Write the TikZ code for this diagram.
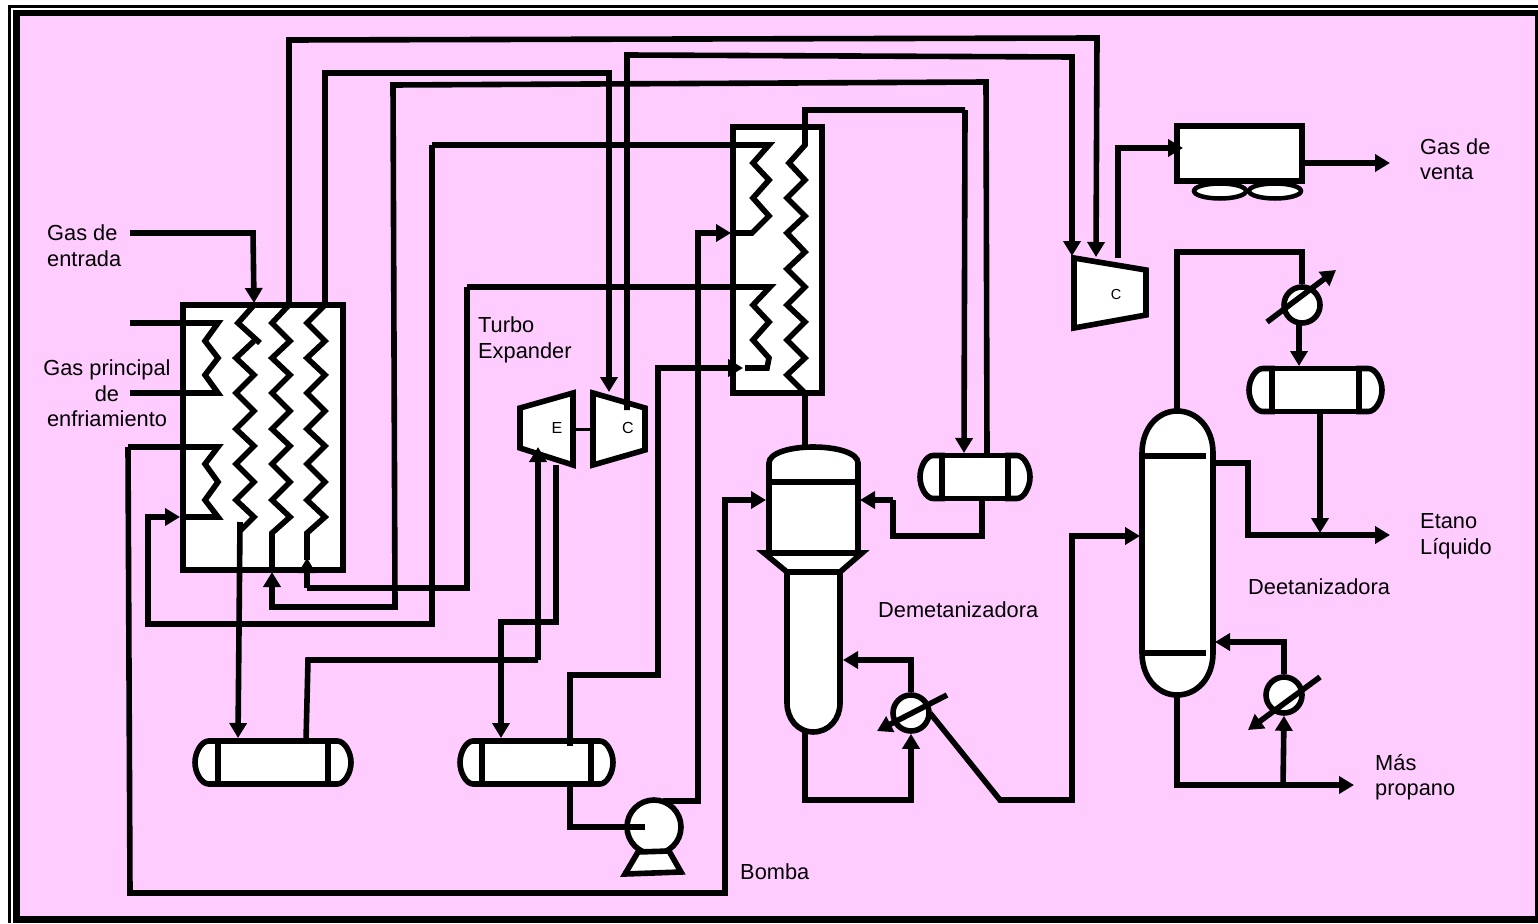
\documentclass[tikz,border=0pt]{standalone}
\usepackage{fontspec}
\setmainfont{Liberation Sans}
\usetikzlibrary{arrows.meta,shapes.geometric}
\definecolor{bgpink}{HTML}{FFCCFF}
\tikzset{
  vessel/.style={draw=black,fill=white,line width=5.6pt,line join=miter},
  vnode/.style={vessel,inner sep=0pt,outer sep=0pt,shape=rectangle},
  pipe/.style={draw=black,line width=5.6pt,line join=miter},
  flow/.style={pipe,-{Triangle[length=15pt,width=17pt]}},
  coil/.style={draw=black,line width=5.6pt,line join=miter,miter limit=4},
  lbl/.style={font=\fontsize{21.8}{25.5}\selectfont,align=left,text=black,inner sep=0pt},
  eqlbl/.style={font=\fontsize{16}{16}\selectfont,text=black,inner sep=0pt},
}
\newcommand{\hdrum}[6]{% name, cx, cy, width of middle, height, cap
  \coordinate (#1-nw) at (#2-#4/2,#3-#5/2);
  \coordinate (#1-ne) at (#2+#4/2,#3-#5/2);
  \draw[vessel] (#1-nw) -- ++(-#6*0.4,0) .. controls +(-#6*0.32,0) and +(0,-#5*0.24) .. ++(-#6*0.6,#5*0.5) .. controls +(0,#5*0.24) and +(-#6*0.32,0) .. ++(#6*0.6,#5*0.5) -- ++(#6*0.4,0) -- cycle;
  \draw[vessel] (#1-ne) -- ++(#6*0.4,0) .. controls +(#6*0.32,0) and +(0,-#5*0.24) .. ++(#6*0.6,#5*0.5) .. controls +(0,#5*0.24) and +(#6*0.32,0) .. ++(-#6*0.6,#5*0.5) -- ++(-#6*0.4,0) -- cycle;
  \node[vnode,minimum width=#4pt,minimum height=#5pt] (#1) at (#2,#3) {};
}
\begin{document}
\begin{tikzpicture}[x=1pt,y=-1pt]
\useasboundingbox (0,0) rectangle (1538,923);
% frame
\fill[white] (0,0) rectangle (1538,923);
\fill[black] (8,5) rectangle (1538,923);
\fill[white] (11,8) rectangle (1538,923);
\fill[black] (13,10) rectangle (1538,923);
\fill[bgpink] (20,16) rectangle (1535,916);

% ---------- equipment ----------
\node[vnode,minimum width=160pt,minimum height=265pt] (hxa) at (263,437.5) {};
\node[vnode,minimum width=89pt,minimum height=266pt] (hxb) at (777.5,260) {};
\node[vessel,line width=4.5pt,ellipse,inner sep=0pt,minimum width=52pt,minimum height=15pt] (fana) at (1220,191) {};
\node[vessel,line width=4.5pt,ellipse,inner sep=0pt,minimum width=52pt,minimum height=15pt] (fanb) at (1275,191) {};
\node[vnode,minimum width=125pt,minimum height=55pt] (cooler) at (1239.5,153.5) {};

\hdrum{draina}{273}{762.5}{110}{43}{23}
\hdrum{drainb}{536.5}{762.5}{109}{43}{22}
\hdrum{drumdem}{975}{477}{66}{43}{22}
\hdrum{drumdee}{1315.5}{390}{87}{43}{23}

% turbo expander
\draw[vessel] (520,408) -- (573,393) -- (573,465) -- (520,448) -- cycle;
\draw[vessel] (593,393) -- (645,408) -- (645,450) -- (593,465) -- cycle;
\coordinate (shafta) at (573,429);
\coordinate (shaftb) at (593,429);
\draw[draw=black,line width=3pt] (shafta) -- (shaftb);
\node[eqlbl] (elbl) at (557,428) {E};
\node[eqlbl] (clbl) at (628,428) {C};

% sales compressor
\draw[vessel] (1074,258) -- (1146,270) -- (1146,315) -- (1074,328) -- cycle;
\node[eqlbl,font=\fontsize{14.5}{15}\selectfont] (clblb) at (1116,295) {C};

% demethanizer
\draw[vessel] (769,553) -- (769,463) .. controls (769,453) and (790,447) .. (813,447) .. controls (837,447) and (858,453) .. (858,463) -- (858,553);
\draw[vessel] (764,553) -- (787,572) -- (787,703) .. controls (787,719) and (798,732) .. (813,732) .. controls (829,732) and (840,719) .. (840,703) -- (840,572) -- (862,553) -- cycle;
\draw[pipe] (769,482) -- (858,482);
\draw[pipe] (787,572) -- (840,572);

% deethanizer
\draw[vessel] (1142,453) .. controls (1142,428) and (1158,411) .. (1177,411) .. controls (1197,411) and (1213,428) .. (1213,453) -- (1213,653) .. controls (1213,678) and (1197,695) .. (1177,695) .. controls (1158,695) and (1142,678) .. (1142,653) -- cycle;
\draw[pipe] (1142,456) -- (1206,456);
\draw[pipe] (1142,653) -- (1206,653);

% exchangers
\node[vessel,circle,inner sep=0pt,minimum size=36pt] (cond) at (1302,305) {};
\node[vessel,circle,inner sep=0pt,minimum size=36pt] (rebdem) at (911,713) {};
\node[vessel,circle,inner sep=0pt,minimum size=36pt] (rebdee) at (1284,695) {};

% pump
\node[vessel,circle,inner sep=0pt,minimum size=54pt] (pump) at (654,827) {};
\draw[vessel] (638,852) -- (625,874) -- (681,872) -- (669,851) -- cycle;

% ---------- named ports ----------
\coordinate (in1) at (130,233);
\coordinate (in2) at (130,323);
\coordinate (in3) at (130,393);
\coordinate (ha1) at (254,303);
\coordinate (ha2) at (289,305);
\coordinate (ha3) at (325,305);
\coordinate (hbL) at (731,233);
\coordinate (hbLo) at (743,368);
\coordinate (compin1) at (1072,256);
\coordinate (compin2) at (1096,257);
\coordinate (compout) at (1118,258);
\coordinate (coolin) at (1183,148);
\coordinate (coolout) at (1303,163);
\coordinate (ctip) at (609,392);
\coordinate (cout) at (627,410);
\coordinate (eIn) at (538,447);
\coordinate (eOut) at (556,465);

% ---------- exchanger A coils ----------
\draw[coil] (in2) -- (218,323) -- (205,341) -- (218,358) -- (205,375) -- (218,393) -- (in3);
\draw[coil] (128,447) -- (218,447) -- (205,464) -- (218,482) -- (205,500) -- (218,517) -- (180,517);
\draw[coil] (254,305) -- (238,323) -- (260,343);
\draw[coil] (254,341) -- (236,358) -- (254,375) -- (236,393) -- (254,411) -- (236,429) -- (254,446) -- (236,464) -- (254,482) -- (236,500) -- (254,517) -- (239,532);
\draw[coil] (ha2) -- (272,323) -- (290,341) -- (272,358) -- (290,375) -- (272,393) -- (290,411) -- (272,429) -- (290,446) -- (272,464) -- (290,482) -- (272,500) -- (290,517) -- (272,533) -- (272,572);
\draw[coil] (ha3) -- (307,323) -- (325,341) -- (307,358) -- (325,375) -- (307,393) -- (325,411) -- (307,429) -- (325,446) -- (307,464) -- (325,482) -- (307,500) -- (325,517) -- (307,533) -- (307,560);

% ---------- exchanger B coils ----------
\draw[coil] (432,145) -- (769,145) -- (753,163) -- (769,180) -- (753,198) -- (769,216) -- (752,233) -- (hbL);
\draw[coil] (467,287) -- (770,287) -- (753,305) -- (769,322) -- (753,340) -- (769,358) -- (767,368) -- (745,368);
\draw[coil] (965,110) -- (805,110) -- (805,145) -- (789,163) -- (805,180) -- (787,198) -- (805,216) -- (787,233) -- (805,252) -- (787,269) -- (805,287) -- (787,305) -- (805,322) -- (787,340) -- (805,358) -- (787,375) -- (805,393) -- (805,447);

% ---------- pipes ----------
\draw[flow] (in1) -- (253,233) -- (ha1);
\draw[flow] (ha2) -- (289,40) -- (1097,38) -- (compin2);
\draw[flow] (ha3) -- (325,73) -- (609,73) -- (ctip);
\draw[flow] (cout) -- (627,55) -- (1072,57) -- (compin1);
\draw[flow] (drumdem.north east) ++(-21,0) -- (986,82) -- (393,85) -- (395,607) -- (272,607) -- (272,572);
\draw[pipe] (467,287) -- (467,588) -- (307,588);
\draw[flow] (307,588) -- (307,558);
\draw[flow] (432,145) -- (432,624) -- (148,624) -- (148,517) -- (180,517);
\draw[flow] (240,522) -- (238,738);
\draw[flow] (compout) -- (1118,148) -- (coolin);
\draw[flow] (coolout) -- (1390,163);
\draw[flow] (965,110) -- (964,453);
% expander connections
\draw[pipe] (draina.north east) ++(-22,0) -- (308,660) -- (538,660);
\draw[flow] (538,660) -- (eIn);
\draw[flow] (eOut) -- (556,622) -- (501,622) -- (501,738);
\draw[flow] (570,746) -- (570,675) -- (658,675) -- (658,368) -- (hbLo);
\draw[pipe] (570,784) -- (570,827) -- (645,827);
\draw[flow] (663,801) -- (698,801) -- (698,233) -- (hbL);
\draw[flow] (128,447) -- (130,893) -- (725,893) -- (725,500) -- (766,500);
% demethanizer connections
\draw[pipe] (982,499) -- (982,536) -- (893,536) -- (893,500);
\draw[flow] (893,500) -- (860,500);
\draw[flow] (805,732) -- (805,800) -- (911,800) -- (rebdem.south);
\draw[flow] (rebdem.north) -- (911,660) -- (843,660);
\draw[flow] (947,695) -- (877,731);
\draw[flow] (930,713) -- (1000,800) -- (1072,800) -- (1072,536) -- (1140,536);
% deethanizer connections
\draw[pipe] (1177,411) -- (1177,252) -- (1302,252) -- (cond.north);
\draw[flow] (1267,322) -- (1336,270);
\draw[flow] (1299,323) -- (1299,366);
\draw[flow] (1320,412) -- (1320,533);
\draw[flow] (1215,463) -- (1248,463) -- (1248,535) -- (1390,535);
\draw[flow] (rebdee.north) -- (1284,642) -- (1215,642);
\draw[flow] (1177,695) -- (1177,785) -- (1354,785);
\draw[flow] (1283,785) -- (rebdee.south);
\draw[flow] (1320,677) -- (1248,730);

% ---------- labels ----------
\node[lbl,anchor=north west] (t1) at (47,225) {Gas de\\entrada};
\node[lbl,anchor=north,align=center] (t2) at (107,359.5) {Gas principal\\de\\enfriamiento};
\node[lbl,anchor=north west] (t3) at (478,316.5) {Turbo\\Expander};
\node[lbl,anchor=north west] (t4) at (1420,138.5) {Gas de\\venta};
\node[lbl,anchor=north west] (t5) at (1420,513.5) {Etano\\Líquido};
\node[lbl,anchor=north west] (t6) at (1248,578.5) {Deetanizadora};
\node[lbl,anchor=north west] (t7) at (878,601) {Demetanizadora};
\node[lbl,anchor=north west] (t8) at (1375,754) {Más\\propano};
\node[lbl,anchor=north west] (t9) at (740,863.5) {Bomba};
\end{tikzpicture}
\end{document}
